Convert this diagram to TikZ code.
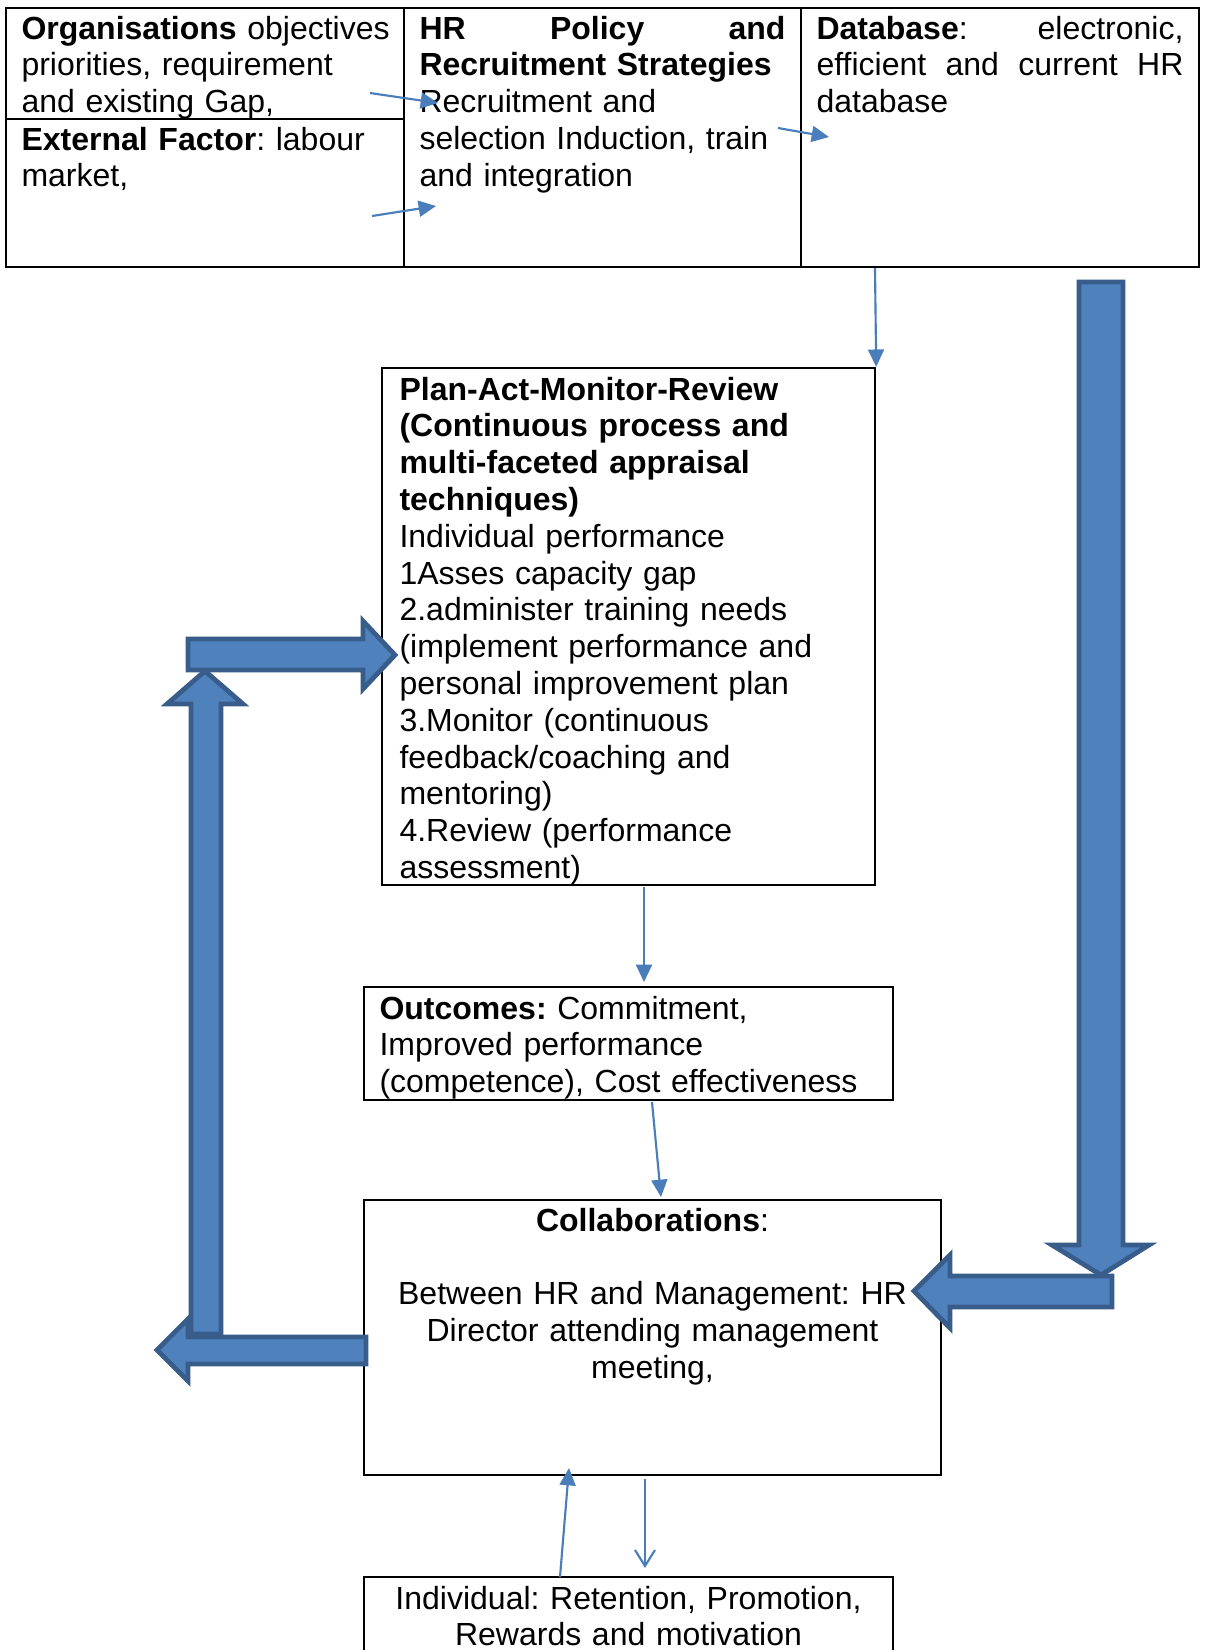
\documentclass[tikz,border=0pt]{standalone}
\usepackage{fontspec}
\setmainfont{Liberation Sans}
\usetikzlibrary{arrows.meta,fit}
\definecolor{blockfill}{HTML}{4F81BD}
\definecolor{blockline}{HTML}{385D8A}
\definecolor{linkblue}{HTML}{4A7EBB}
\frenchspacing
\hyphenpenalty=10000
\exhyphenpenalty=10000

\begin{document}
\begin{tikzpicture}[x=0.375pt,y=-0.375pt,
  cellbox/.style={draw=black, line width=0.9pt, inner sep=0pt, fit={#1}},
  txt/.style={inner sep=0pt, font=\fontsize{12pt}{13.8pt}\selectfont, align=left, text width=#1},
  link/.style={draw=linkblue, line width=0.8pt, -{Triangle[length=6.5pt,width=6pt]}},
  openlink/.style={draw=linkblue, line width=0.8pt, -{Straight Barb[length=6pt,width=7.5pt]}},
  blockarrow/.style={fill=blockfill, draw=blockline, line width=1.8pt, line join=miter},
]
\useasboundingbox[fill=white] (0,0) rectangle (1206,1650);

% frames
\node[cellbox={(6,8) (404,119)}] (org) {};
\node[cellbox={(6,119) (404,267)}] (ext) {};
\node[cellbox={(404,8) (801,267)}] (hr) {};
\node[cellbox={(801,8) (1199,267)}] (db) {};
\node[cellbox={(382,368) (875,885)}] (plan) {};
\node[cellbox={(364,987) (893,1100)}] (out) {};
\node[cellbox={(364,1200) (941,1475)}] (collab) {};
\node[cellbox={(364,1577) (893,1680)}] (indiv) {};

% texts
\node[txt=150pt, anchor=base west] (orgtext) at (21,39)
  {\textbf{Organisations} objectives\\priorities, requirement\\and existing Gap,};
\node[txt=150pt, anchor=base west] (exttext) at (21,150)
  {\textbf{External Factor}: labour\\market,};
\node[txt=137.25pt, anchor=base west] (hrtext) at (419,39)
  {\textbf{HR} \hfill \textbf{Policy} \hfill \textbf{and}\\
   \textbf{Recruitment Strategies}\\
   Recruitment and\\selection Induction, train\\and integration};
\node[txt=137.6pt, anchor=base west] (dbtext) at (816,39)
  {\textbf{Database}: \hfill electronic,\\
   efficient \hfill and \hfill current \hfill HR\\database};
\node[txt=180pt, anchor=base west] (plantext) at (399,400)
  {\textbf{Plan-Act-Monitor-Review}\\
   \textbf{(Continuous process and}\\
   \textbf{multi-faceted appraisal}\\
   \textbf{techniques)}\\
   Individual performance\\
   1Asses capacity gap\\
   2.administer training needs\\
   (implement performance and\\
   personal improvement plan\\
   3.Monitor (continuous\\
   feedback/coaching and\\
   mentoring)\\
   4.Review (performance\\
   assessment)};
\node[txt=195pt, anchor=base west] (outtext) at (379,1019)
  {\textbf{Outcomes:} Commitment,\\Improved performance\\(competence), Cost effectiveness};
\node[txt=210pt, align=center, anchor=base] (collabtext) at (652.5,1231)
  {\textbf{Collaborations}:\\[13.8pt]Between HR and Management: HR\\Director attending management\\meeting,};
\node[txt=195pt, align=center, anchor=base] (indivtext) at (628.5,1609)
  {Individual: Retention, Promotion,\\Rewards and motivation};

% block arrows
\draw[blockarrow] (1079,282) -- (1123,282) -- (1123,1245) -- (1149,1245)
  -- (1101,1275) -- (1052,1245) -- (1079,1245) -- cycle;
\draw[blockarrow] (1112,1276) -- (950,1276) -- (950,1255) -- (914,1291)
  -- (950,1328) -- (950,1307) -- (1112,1307) -- cycle;
\draw[blockarrow] (191,1334) -- (191,704) -- (167,704) -- (205,671)
  -- (243,704) -- (221,704) -- (221,1334) -- cycle;
\draw[blockarrow] (366,1337) -- (188,1337) -- (188,1319) -- (157,1350)
  -- (188,1381) -- (188,1364) -- (366,1364) -- cycle;
\draw[blockarrow] (188,639) -- (363,639) -- (363,621) -- (395,655)
  -- (363,689) -- (363,670) -- (188,670) -- cycle;

% thin connectors
\coordinate (a1) at (370,93);   \coordinate (a2) at (438,103);
\coordinate (b1) at (372,216);  \coordinate (b2) at (436,206);
\coordinate (c1) at (778,128);  \coordinate (c2) at (829,137);
\coordinate (d1) at (875,268);
\coordinate (e1) at (644,887);  \coordinate (e2) at (644,982);
\coordinate (f1) at (652,1102); \coordinate (f2) at (661,1197);
\coordinate (g1) at (560,1577); \coordinate (g2) at (569,1468);
\coordinate (h1) at (645,1479); \coordinate (h2) at (645,1568);
\draw[link] (a1) -- (a2);
\draw[link] (b1) -- (b2);
\draw[link] (c1) -- (c2);
\draw[link] (d1) -- (plan.north east);
\draw[link] (e1) -- (e2);
\draw[link] (f1) -- (f2);
\draw[link] (g1) -- (g2);
\draw[openlink] (h1) -- (h2);
\end{tikzpicture}
\end{document}
